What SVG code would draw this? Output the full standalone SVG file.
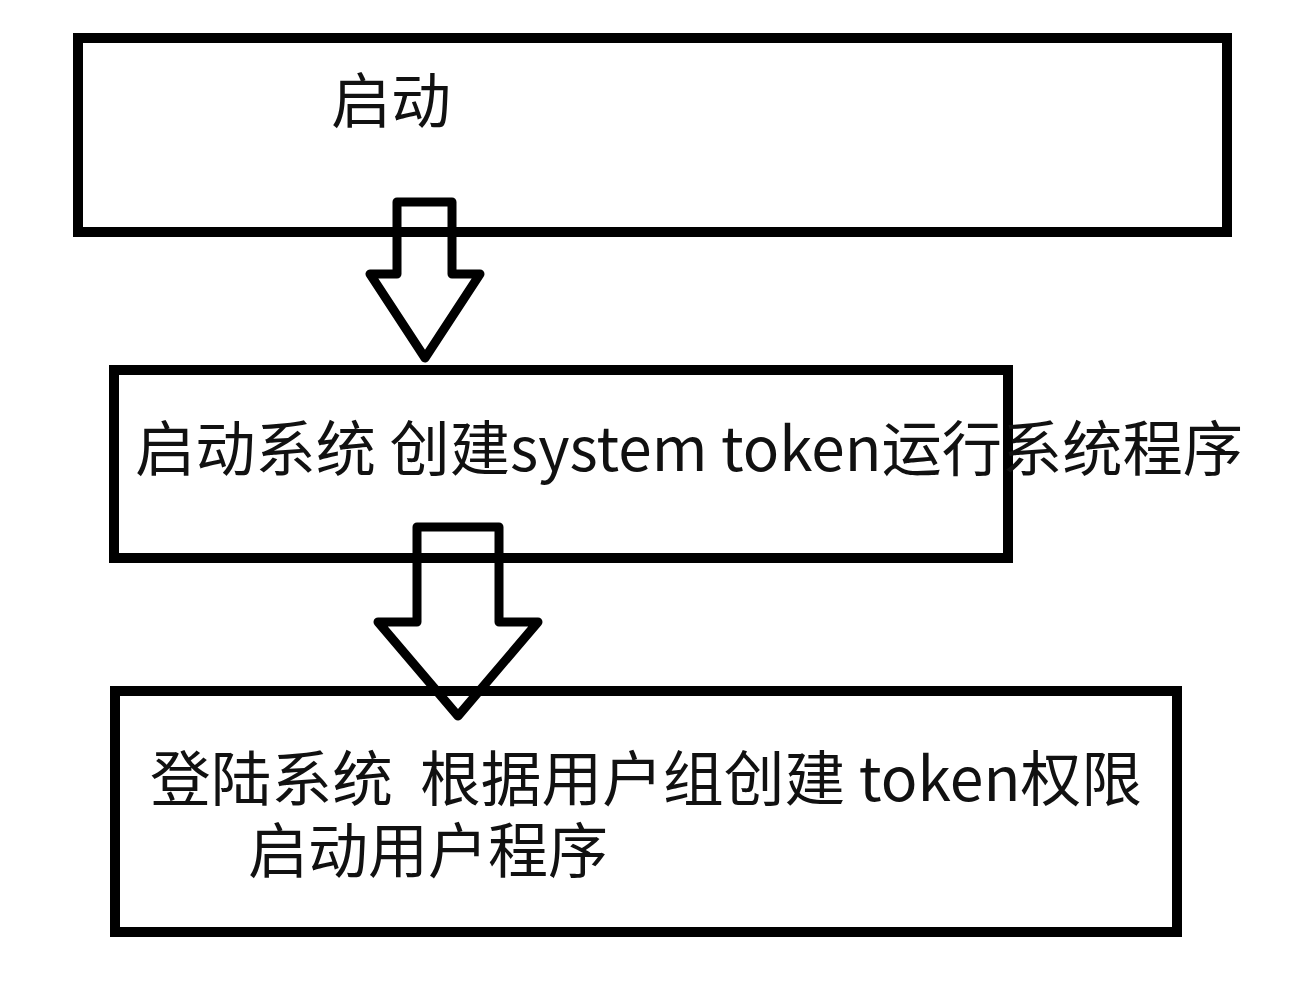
<svg xmlns="http://www.w3.org/2000/svg" width="1305" height="989" viewBox="0 0 1305 989">
  <style>
    .box { fill: none; stroke: #000; stroke-width: 10; }
    .arrow { fill: none; stroke: #000; stroke-width: 9; stroke-linejoin: round; }
    .lbl { font-family: "Microsoft YaHei", "Noto Sans CJK SC", "Noto Sans", sans-serif; font-size: 60px; fill: #111; }
  </style>
  <rect x="0" y="0" width="1305" height="989" fill="#ffffff"/>
  <g id="node-start">
    <rect class="box" x="78" y="38" width="1149" height="194"/>
    <text class="lbl" x="331" y="123">启动</text>
  </g>
  <g id="node-system">
    <rect class="box" x="114" y="370" width="894" height="188"/>
    <text class="lbl" x="135" y="471" textLength="1108" lengthAdjust="spacingAndGlyphs">启动系统 创建system token运行系统程序</text>
  </g>
  <g id="node-login">
    <rect class="box" x="115" y="691" width="1062" height="241"/>
    <text class="lbl" xml:space="preserve"><tspan x="150" y="801" textLength="992" lengthAdjust="spacingAndGlyphs">登陆系统  根据用户组创建 token权限</tspan><tspan x="248" y="873">启动用户程序</tspan></text>
  </g>
  <g id="connectors">
    <path class="arrow" d="M397,202 L452,202 L452,274 L480,274 L425,358 L370,274 L397,274 Z"/>
    <path class="arrow" d="M417,527 L499,527 L499,622 L538,622 L458,716 L378,622 L417,622 Z"/>
  </g>
</svg>
